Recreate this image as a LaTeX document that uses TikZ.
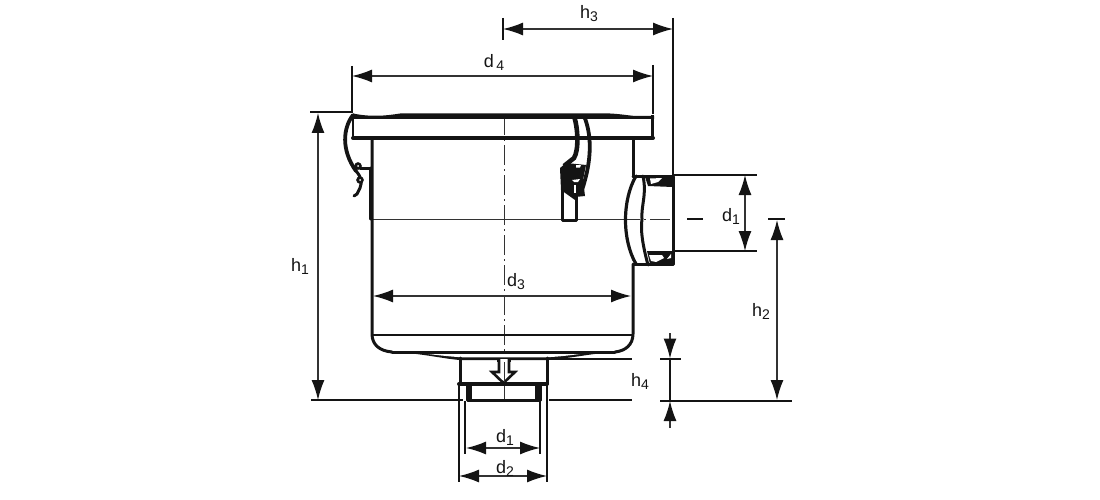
\documentclass[tikz,border=0pt]{standalone}
\usepackage{fontspec}
\setmainfont{Liberation Sans}
\usetikzlibrary{arrows.meta}
\definecolor{ink}{HTML}{141414}
\definecolor{thin}{HTML}{333333}
\tikzset{
  part/.style={draw=ink,line width=3pt,line cap=round,line join=round},
  heavy/.style={draw=ink,line width=4pt,line cap=round,line join=round},
  ext/.style={draw=ink,line width=2pt},
  dim/.style={draw=thin,line width=1.4pt,{Latex[length=20pt,width=13pt,color=ink]}-{Latex[length=20pt,width=13pt,color=ink]}},
  tip/.style={draw=thin,line width=1.4pt,-{Latex[length=20pt,width=13pt,color=ink]}},
  axis/.style={draw=thin,line width=.8pt,dash pattern=on 20pt off 4pt on 2pt off 4pt},
  lab/.style={text=ink,font=\fontsize{18}{18}\selectfont,inner sep=0pt},
  blob/.style={fill=ink,draw=ink,line width=.5pt}
}
\newcommand{\sublab}[2]{#1\raisebox{-3pt}{\fontsize{14}{14}\selectfont #2}}
\begin{document}
\begin{tikzpicture}[x=1pt,y=-1pt]
\useasboundingbox (0,0) rectangle (1100,500);
% named dimension points
\coordinate (h1a) at (318,113); \coordinate (h1b) at (318,400);
\coordinate (h2a) at (777,220); \coordinate (h2b) at (777,400);
\coordinate (h3a) at (503,29);  \coordinate (h3b) at (673,29);
\coordinate (d4a) at (352,76);  \coordinate (d4b) at (653,76);
\coordinate (d3a) at (373,296); \coordinate (d3b) at (631,296);
\coordinate (d1a) at (745,175); \coordinate (d1b) at (745,251);
\coordinate (e1a) at (466,448); \coordinate (e1b) at (540,448);
\coordinate (e2a) at (459,476); \coordinate (e2b) at (547,476);
% axes
\draw[axis] (504,115) -- (504,400);
\draw[draw=thin,line width=.9pt] (371,219) -- (620,219);
\draw[axis] (620,219) -- (672,219);
\draw[draw=ink,line width=1.7pt] (687,219) -- (703,219);
\draw[ext] (768,219) -- (785,219);
% flange
\fill[ink] (353,113.5) .. controls (370,117) and (385,116) .. (400,113.5) -- (610,113.5) .. controls (620,114) and (625,115) .. (635,116) -- (654,116) -- (654,119) -- (353,119) -- cycle;
\draw[heavy] (353,138) -- (653,138);
\draw[draw=ink,line width=2.4pt] (353,115) -- (353,137);
\draw[draw=ink,line width=3pt] (652.5,115) -- (652.5,139);
% body
\draw[part] (372,138) -- (372,334) .. controls (372,345) and (380,351) .. (392,352);
\draw[part] (633,138) -- (633,177);
\draw[part] (633,264) -- (633,334) .. controls (633,345) and (625,351) .. (615,352);
\draw[draw=ink,line width=2.6pt] (372,335) -- (633,335);
\draw[part] (392,352) -- (615,352);
\fill[ink] (392,351.5) .. controls (425,354) and (445,359) .. (460,360) -- (547,360) .. controls (565,359) and (590,354) .. (615,351.5) -- cycle;
\fill[white] (428,354) .. controls (445,356) and (455,357) .. (465,357.4) -- (542,357.4) .. controls (555,357) and (565,356) .. (580,354) -- cycle;
\draw[part] (370,168) -- (370,219);
% nozzle
\draw[part] (460,358) -- (460,384);
\draw[part] (547,358) -- (547,384);
\draw[heavy] (459,384) -- (547,384);
\draw[part] (467,384) -- (467,400) -- (540,400) -- (540,384);
\fill[ink] (466,384) rectangle (472,400);
\fill[ink] (535,384) rectangle (541,400);
% outlet arrow
\fill[ink] (497,358) rectangle (511,362);
\draw[draw=ink,line width=2.6pt,fill=white,line join=miter] (499,359) -- (499,372) -- (492,372) -- (503.5,383) -- (515,372) -- (509,372) -- (509,359);
\draw[axis] (504,362) -- (504,384);
% side port
\draw[part] (633,176) -- (673,176) -- (673,264) -- (634,264);
\draw[draw=ink,line width=3.2pt,line cap=round] (636,176) .. controls (622,200) and (622,240) .. (636,264);
\draw[part] (643,176) .. controls (647,195) and (641,205) .. (642,219) .. controls (640,232) and (644,250) .. (648,265);
\fill[ink] (645,177) -- (673,177) -- (673,187) -- (648,186) -- cycle;
\fill[white] (650,178.5) -- (662,178) -- (658,182) -- (651,184) -- cycle;
\fill[ink] (647,251) -- (673,251) -- (673,264) -- (650,264) -- cycle;
\fill[white] (649,255) -- (662,255) -- (664,258) -- (656,262) -- (651,261) -- cycle;
\fill[white] (667,259) -- (671,254) -- (671,258) -- cycle;
% left clip
\draw[draw=ink,line width=3.8pt,line cap=round] (353,115) .. controls (343,128) and (341,150) .. (356,171);
\draw[part] (356,171) .. controls (362,178) and (362,182) .. (360,188) -- (357,194) -- (354,196);
\draw[part] (360,168) -- (371,168);
\draw[blob] (358,166) circle (3.5);
\fill[white] (358,166) circle (1);
\draw[blob] (360,180) circle (3.5);
\fill[white] (360,180) circle (1);
% right clamp
\draw[draw=ink,line width=4.6pt] (574,116) .. controls (578,128) and (579,150) .. (574,158) -- (564,166);
\draw[draw=ink,line width=3.8pt] (584,116) .. controls (592,135) and (592,160) .. (582,190);
\fill[ink] (560,168) -- (566,163) -- (586,165) -- (583,180) -- (585,196) -- (575,197) -- (575,200) -- (561,190) -- cycle;
\fill[white] (576,165) -- (581,165) -- (580,167.5) -- (576,167.5) -- cycle;
\fill[white] (572,180) -- (580,179) -- (578,182) -- (574,182) -- cycle;
\fill[white] (573.5,185) rectangle (575.5,193);
\draw[part] (562,180) -- (562,220) -- (576,220) -- (576,195);
% extension lines
\draw[ext] (310,112) -- (353,112);
\draw[ext] (311,400) -- (463,400);
\draw[ext] (549,400) -- (632,400);
\draw[ext] (547,359) -- (632,359);
\draw[ext] (660,359) -- (681,359);
\draw[ext] (660,400.5) -- (792,400.5);
\draw[ext] (673,18) -- (673,176);
\draw[ext] (503,18) -- (503,40);
\draw[ext] (352,66) -- (352,113);
\draw[ext] (653,65) -- (653,114);
\draw[ext] (673,175) -- (757,175);
\draw[ext] (673,251) -- (757,251);
\draw[ext] (465,401) -- (465,454);
\draw[ext] (540,401) -- (540,454);
\draw[ext] (459,385) -- (459,482);
\draw[ext] (547,385) -- (547,482);
% dimensions
\draw[dim] (h1a) -- (h1b);
\draw[dim] (h2a) -- (h2b);
\draw[dim] (h3a) -- (h3b);
\draw[dim] (d4a) -- (d4b);
\draw[dim] (d3a) -- (d3b);
\draw[dim] (d1a) -- (d1b);
\draw[dim] (e1a) -- (e1b);
\draw[dim] (e2a) -- (e2b);
\coordinate (h4t) at (670,333); \coordinate (h4u) at (670,358.5);
\coordinate (h4s) at (670,428); \coordinate (h4v) at (670,401);
\draw[tip] (h4t) -- (h4u);
\draw[tip] (h4s) -- (h4v);
\draw[draw=ink,line width=2.2pt] (h4u) -- (h4v);
% labels
\node[lab] (ld4) at (494,62) {\sublab{d}{\,4}};
\node[lab] (lh3) at (589,14) {\sublab{h}{3}};
\node[lab] (ld3) at (516,282) {\sublab{d}{3}};
\node[lab] (ldr) at (731,216) {\sublab{d}{1}};
\node[lab] (lh1) at (300,266) {\sublab{h}{1}};
\node[lab] (lh2) at (761,311) {\sublab{h}{2}};
\node[lab] (lh4) at (640,381) {\sublab{h}{4}};
\node[lab] (ld1) at (505,437) {\sublab{d}{1}};
\node[lab] (ld2) at (505,468) {\sublab{d}{2}};
\end{tikzpicture}
\end{document}
